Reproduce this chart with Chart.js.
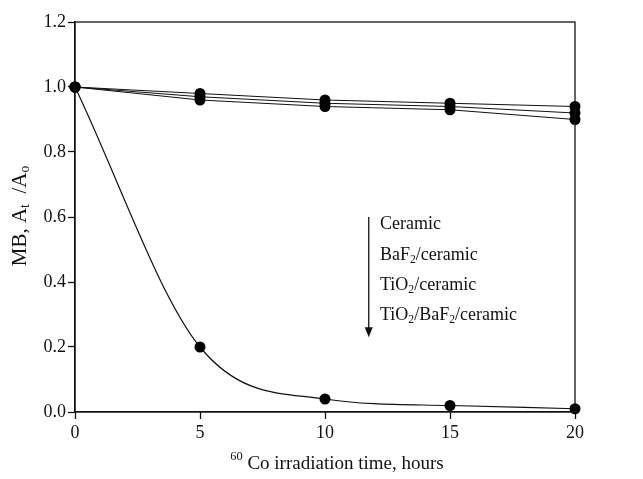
<!DOCTYPE html>
<html>
<head>
<meta charset="utf-8">
<script src="https://cdn.jsdelivr.net/npm/chart.js@4"></script>
<style>
  html, body { margin: 0; padding: 0; background: #fff; }
  #wrap { width: 643px; height: 479px; }
</style>
</head>
<body>
<div id="wrap"><canvas id="myChart"></canvas></div>
<script>
const hours = [0, 5, 10, 15, 20];
const ceramic = [1.0, 0.98, 0.96, 0.95, 0.94];
const baf2Ceramic = [1.0, 0.97, 0.95, 0.94, 0.92];
const tio2Ceramic = [1.0, 0.96, 0.94, 0.93, 0.90];
const tio2Baf2Ceramic = [1.0, 0.20, 0.04, 0.02, 0.01];
const seriesNames = ['Ceramic', 'BaF2/ceramic', 'TiO2/ceramic', 'TiO2/BaF2/ceramic'];
const xTicks = [0, 5, 10, 15, 20];
const yTicks = [0, 0.2, 0.4, 0.6, 0.8, 1.0, 1.2];

const FONT = '"Liberation Serif", "Times New Roman", serif';
const INK = '#111';

function pts(ys) {
  return hours.map((h, i) => ({ x: h, y: ys[i] }));
}

// parts: [[text, 'n'|'sub'|'sup'], ...]
function richWidth(ctx, parts, size) {
  let w = 0;
  parts.forEach(p => {
    ctx.font = (p[1] === 'n' ? size : size * 0.65) + 'px ' + FONT;
    w += ctx.measureText(p[0]).width;
  });
  return w;
}
function drawRich(ctx, parts, x, y, size) {
  let cx = x;
  parts.forEach(p => {
    let dy = 0;
    if (p[1] === 'n') {
      ctx.font = size + 'px ' + FONT;
    } else {
      ctx.font = (size * 0.65) + 'px ' + FONT;
      dy = p[1] === 'sub' ? size * 0.28 : -size * 0.38;
    }
    ctx.fillText(p[0], cx, y + dy);
    cx += ctx.measureText(p[0]).width;
  });
}

const legendParts = [
  [['Ceramic', 'n']],
  [['BaF', 'n'], ['2', 'sub'], ['/ceramic', 'n']],
  [['TiO', 'n'], ['2', 'sub'], ['/ceramic', 'n']],
  [['TiO', 'n'], ['2', 'sub'], ['/BaF', 'n'], ['2', 'sub'], ['/ceramic', 'n']]
];
const legendY = [0.578, 0.483, 0.39, 0.298];

const decorations = {
  id: 'decorations',
  afterDraw(chart) {
    const ctx = chart.ctx;
    const a = chart.chartArea;
    const xs = chart.scales.x, ys = chart.scales.y;
    ctx.save();
    // frame
    ctx.strokeStyle = INK;
    ctx.lineWidth = 1.3;
    ctx.strokeRect(a.left, a.top, a.right - a.left, a.bottom - a.top);

    ctx.fillStyle = INK;
    ctx.textBaseline = 'middle';
    ctx.textAlign = 'left';

    // legend arrow
    const ax = xs.getPixelForValue(11.75);
    const ay1 = ys.getPixelForValue(0.6);
    const ay2 = ys.getPixelForValue(0.23);
    ctx.lineWidth = 1.3;
    ctx.beginPath();
    ctx.moveTo(ax, ay1);
    ctx.lineTo(ax, ay2 - 8);
    ctx.stroke();
    ctx.beginPath();
    ctx.moveTo(ax - 4, ay2 - 10);
    ctx.lineTo(ax + 4, ay2 - 10);
    ctx.lineTo(ax, ay2);
    ctx.closePath();
    ctx.fill();

    // legend labels
    const lx = xs.getPixelForValue(12.2);
    legendParts.forEach((parts, i) => {
      drawRich(ctx, parts, lx, ys.getPixelForValue(legendY[i]), 18);
    });

    // x title
    const xt = [['60', 'sup'], [' Co irradiation time, hours', 'n']];
    const xw = richWidth(ctx, xt, 19);
    drawRich(ctx, xt, 337 - xw / 2, 464, 19);

    // y title
    const yt = [['MB, A', 'n'], ['t', 'sub'], ['  /A', 'n'], ['o', 'sub']];
    const yw = richWidth(ctx, yt, 21);
    ctx.translate(20, 216);
    ctx.rotate(-Math.PI / 2);
    drawRich(ctx, yt, -yw / 2, 0, 21);
    ctx.restore();
  }
};

function lineSet(label, ys, smooth) {
  return {
    label: label,
    data: pts(ys),
    borderColor: INK,
    backgroundColor: INK,
    borderWidth: 1.2,
    pointRadius: 5.5,
    pointBorderWidth: 0,
    pointBackgroundColor: '#000',
    cubicInterpolationMode: smooth ? 'monotone' : 'default',
    tension: 0,
    clip: false
  };
}

const ctx = document.getElementById('myChart');
new Chart(ctx, {
  type: 'line',
  data: {
    datasets: [
      lineSet(seriesNames[0], ceramic, false),
      lineSet(seriesNames[1], baf2Ceramic, false),
      lineSet(seriesNames[2], tio2Ceramic, false),
      lineSet(seriesNames[3], tio2Baf2Ceramic, true)
    ]
  },
  options: {
    responsive: true,
    maintainAspectRatio: false,
    animation: false,
    layout: { padding: { left: 0, top: 22, right: 68, bottom: 0 } },
    plugins: { legend: { display: false }, tooltip: { enabled: false } },
    scales: {
      x: {
        type: 'linear',
        min: 0, max: 20,
        afterBuildTicks: s => { s.ticks = xTicks.map(v => ({ value: v })); },
        afterFit: s => { s.height = 67; },
        grid: { drawOnChartArea: false, tickLength: 7, color: INK, tickWidth: 1.3 },
        border: { color: INK, width: 1.3 },
        ticks: { color: INK, padding: 3, font: { family: FONT, size: 18 } }
      },
      y: {
        min: 0, max: 1.2,
        afterBuildTicks: s => { s.ticks = yTicks.map(v => ({ value: v })); },
        afterFit: s => { s.width = 75; },
        grid: { drawOnChartArea: false, tickLength: 7, color: INK, tickWidth: 1.3 },
        border: { color: INK, width: 1.3 },
        ticks: {
          color: INK, padding: 2, font: { family: FONT, size: 18 },
          callback: v => v.toFixed(1)
        }
      }
    }
  },
  plugins: [decorations]
});
</script>
</body>
</html>
